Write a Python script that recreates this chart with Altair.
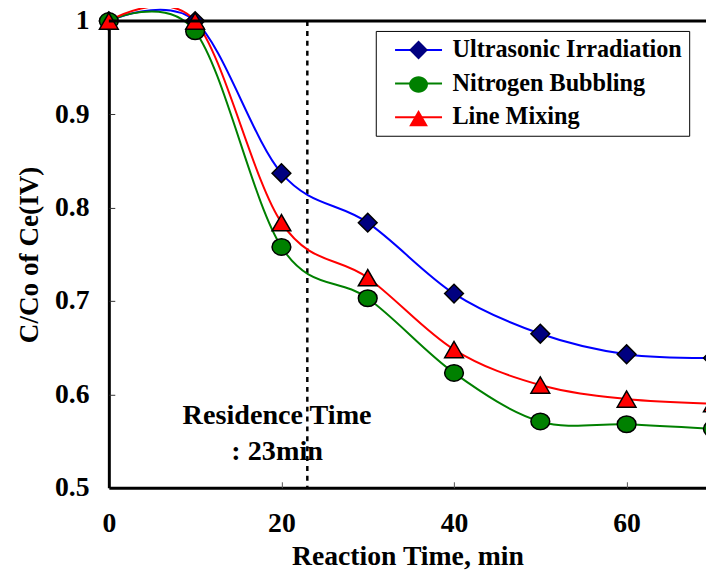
import altair as alt
import pandas as pd

# ---- data ----
times = [0, 10, 20, 30, 40, 50, 60, 70]
ultrasonic = [1.0, 1.0, 0.837, 0.784, 0.708, 0.665, 0.643, 0.639]
nitrogen = [1.0, 0.989, 0.758, 0.703, 0.623, 0.571, 0.568, 0.563]
line_mixing = [1.0, 1.0, 0.784, 0.725, 0.648, 0.610, 0.595, 0.590]

series_names = ["Ultrasonic Irradiation", "Nitrogen Bubbling", "Line Mixing"]
line_colors = ["#0000FF", "#008000", "#FF0000"]
marker_fills = ["#000080", "#008000", "#FF0000"]
marker_shapes = ["diamond", "M-1,0A1,0.88 0 1,1 1,0A1,0.88 0 1,1 -1,0Z", "triangle-up"]

x_ticks = [0, 20, 40, 60]
x_inner_ticks = [20, 40, 60]
y_ticks = [0.5, 0.6, 0.7, 0.8, 0.9, 1.0]
y_inner_ticks = [0.6, 0.7, 0.8, 0.9]

residence_time = [23]
ann_text = ["Residence Time", ": 23min"]
ann_x = [19.5, 19.5]
ann_y = [0.578, 0.539]
top_border = [1.0]

rows = []
for i, (name, vals) in enumerate(zip(series_names, [ultrasonic, nitrogen, line_mixing])):
    for t, v in zip(times, vals):
        rows.append({"time": t, "ratio": v, "series": name, "marker": name, "order": i})
df = pd.DataFrame(rows)

W, H = 604, 472
FONT = "Liberation Serif"
xscale = alt.Scale(domain=[0, 69.2], nice=False, zero=False)
yscale = alt.Scale(domain=[0.5, 1.0], nice=False, zero=False)

LEG_COMMON = dict(title=None, orient="none", legendX=270, legendY=10,
                  symbolSize=361, symbolOffset=24, labelOffset=22, padding=7, rowPadding=9,
                  labelFont=FONT, labelFontSize=24.5, labelFontWeight="bold", labelLimit=400)

lines = alt.Chart(df).mark_line(interpolate="cardinal", strokeWidth=2).encode(
    x=alt.X("time:Q", scale=xscale, axis=alt.Axis(
        title="Reaction Time, min", values=x_ticks, ticks=False, tickSize=0, grid=False,
        domainWidth=3, domainColor="black", labelFlush=False,
        labelFont=FONT, labelFontSize=28, labelFontWeight="bold", labelColor="black", labelPadding=22,
        titleFont=FONT, titleFontSize=28, titleFontWeight="bold", titleColor="black",
        titleY=70, titleBaseline="middle")),
    y=alt.Y("ratio:Q", scale=yscale, axis=alt.Axis(
        title="C/Co of Ce(IV)", values=y_ticks, format="~g", ticks=False, tickSize=0, grid=False,
        domainWidth=3, domainColor="black", labelFlush=False,
        labelFont=FONT, labelFontSize=28, labelFontWeight="bold", labelColor="black", labelPadding=20,
        titleFont=FONT, titleFontSize=27.5, titleFontWeight="bold", titleColor="black",
        titleX=-80, titleBaseline="middle")),
    color=alt.Color("series:N", scale=alt.Scale(domain=series_names, range=line_colors),
                    legend=alt.Legend(symbolType="M-2.5,0L2.5,0", symbolStrokeWidth=2,
                                      labelColor="black", fillColor="white", strokeColor="black",
                                      **LEG_COMMON)),
    detail="order:Q",
)

marker_sort = alt.EncodingSortField(field="order", op="min")
points = alt.Chart(df).mark_point(filled=True, size=361, stroke="black", strokeWidth=1.5, opacity=1).encode(
    x=alt.X("time:Q", scale=xscale, axis=alt.Axis(
        orient="top", offset=-H, values=x_inner_ticks, labels=False, domain=False, grid=False,
        ticks=True, tickSize=6, tickColor="#555555", tickWidth=1, title=None)),
    y=alt.Y("ratio:Q", scale=yscale, axis=alt.Axis(
        orient="right", offset=-W, values=y_inner_ticks, labels=False, domain=False, grid=False,
        ticks=True, tickSize=6, tickColor="#333333", tickWidth=1, title=None)),
    fill=alt.Fill("marker:N", sort=marker_sort, scale=alt.Scale(range=marker_fills),
                  legend=alt.Legend(symbolStrokeColor="black", symbolStrokeWidth=1.5,
                                    labelOpacity=0, **LEG_COMMON)),
    shape=alt.Shape("marker:N", sort=marker_sort, scale=alt.Scale(range=marker_shapes),
                    legend=alt.Legend(symbolStrokeColor="black", symbolStrokeWidth=1.5,
                                      labelOpacity=0, **LEG_COMMON)),
    order=alt.Order("order:Q"),
)

border = alt.Chart(pd.DataFrame({"y": top_border})).mark_rule(strokeWidth=3, color="black").encode(
    y=alt.Y("y:Q", scale=yscale, axis=None))

dashed = alt.Chart(pd.DataFrame({"x": residence_time})).mark_rule(
    strokeWidth=2.5, color="black", strokeDash=[5, 5]).encode(
    x=alt.X("x:Q", scale=xscale, axis=None))

ann = alt.Chart(pd.DataFrame({"x": ann_x, "y": ann_y, "t": ann_text})).mark_text(
    font=FONT, fontSize=28.5, fontWeight="bold", color="black", align="center", baseline="middle").encode(
    x=alt.X("x:Q", scale=xscale, axis=None),
    y=alt.Y("y:Q", scale=yscale, axis=None),
    text="t:N")

chart = alt.layer(ann, dashed, lines, points, border).resolve_axis(
    x="independent", y="independent"
).properties(
    width=W, height=H,
    autosize=alt.AutoSizeParams(type="none"),
    padding={"left": 102, "top": 10, "right": 0, "bottom": 80},
    background="white",
).configure_view(strokeWidth=0)

chart.save("out.html", embed_options={"renderer": "svg", "actions": False})
